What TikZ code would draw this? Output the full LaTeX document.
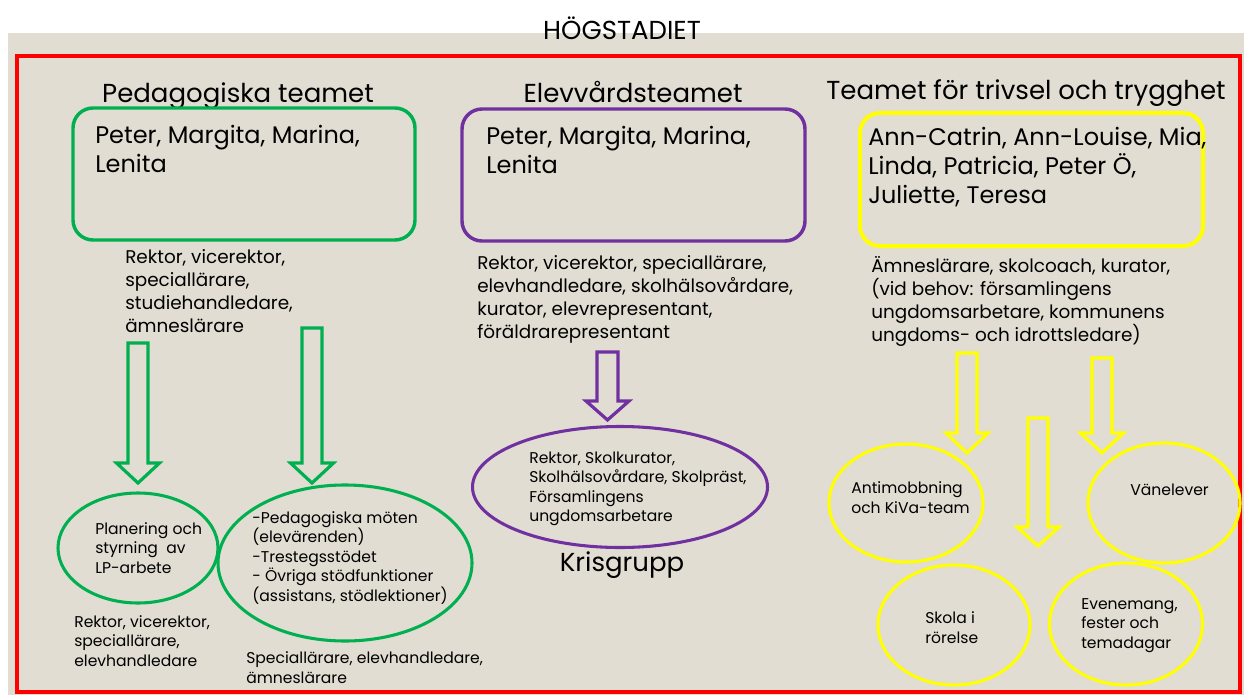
\documentclass[tikz,border=0pt]{standalone}
\usepackage{fontspec}
\setmainfont{Poppins}
\usetikzlibrary{shapes.geometric}
\definecolor{bg}{RGB}{226,221,210}
\definecolor{pgreen}{RGB}{0,176,80}
\definecolor{ppurple}{RGB}{112,48,160}
\definecolor{pyellow}{RGB}{255,255,0}
\definecolor{pred}{RGB}{255,0,0}
\newcommand\blockdown[7]{% color, x, top, headtop, tip, halfshaft, halfhead
  \draw[#1, line width=2.4pt, line join=miter, fill=bg]
    (#2-#6,#3) -- (#2+#6,#3) -- (#2+#6,#4) -- (#2+#7,#4) -- (#2,#5)
    -- (#2-#7,#4) -- (#2-#6,#4) -- cycle;}
\tikzset{
  teambox/.style={draw=#1, line width=2.6pt, rounded corners=15pt, inner sep=0pt},
  oval/.style={ellipse, draw=#1, line width=2.3pt, inner sep=0pt},
  heading/.style={anchor=base, inner sep=0pt, font=\fontsize{19.5}{22}\selectfont},
  names/.style={anchor=base west, inner sep=0pt, align=left, font=\fontsize{18}{21.75}\selectfont},
  desc/.style={anchor=base west, inner sep=0pt, align=left, font=\fontsize{13.8}{17.25}\selectfont},
  small/.style={anchor=base west, inner sep=0pt, align=left, font=\fontsize{11.7}{14.6}\selectfont},
}
\begin{document}
\begin{tikzpicture}[x=0.75pt,y=-0.75pt]
\useasboundingbox (0,0) rectangle (1244,695);
\fill[bg] (8,33) rectangle (1244,695);
\draw[pred, line width=2.4pt] (17,56) rectangle (1240,692);
\node[heading] (title) at (622,40) {HÖGSTADIET};

% headings
\node[heading] (hped) at (238,103) {Pedagogiska teamet};
\node[heading] (helev) at (633,103) {Elevvårdsteamet};
\node[heading] (htriv) at (1026,100) {Teamet för trivsel och trygghet};

% team boxes
\node[teambox=pgreen, minimum width=256.5pt, minimum height=99pt] (bped) at (244,174) {};
\node[teambox=ppurple, minimum width=257.25pt, minimum height=99pt] (belev) at (633.5,175) {};
\node[teambox=pyellow, line width=3pt, minimum width=257.25pt, minimum height=99.75pt] (btriv) at (1031.5,179.5) {};

% (anchor base = baseline of the last line)
\node[names] (nped) at (95,173) {Peter, Margita, Marina,\\Lenita};
\node[names] (nelev) at (486,174) {Peter, Margita, Marina,\\Lenita};
\node[names] (ntriv) at (868,204) {Ann-Catrin, Ann-Louise, Mia,\\Linda, Patricia, Peter Ö,\\Juliette, Teresa};

% descriptions
\node[desc] (dped) at (125,332) {Rektor, vicerektor,\\speciallärare,\\studiehandledare,\\ämneslärare};
\node[desc] (delev) at (477,338) {Rektor, vicerektor, speciallärare,\\elevhandledare, skolhälsovårdare,\\kurator, elevrepresentant,\\föräldrarepresentant};
\node[desc] (dtriv) at (871,341) {Ämneslärare, skolcoach, kurator,\\(vid behov: församlingens\\ungdomsarbetare, kommunens\\ungdoms- och idrottsledare)};

% arrows
\blockdown{pgreen}{138}{343}{463}{483}{10}{21.5}
\blockdown{pgreen}{312}{328}{463}{483}{10}{21.5}
\blockdown{ppurple}{607.5}{352}{401}{420}{10.5}{21.5}
\blockdown{pyellow}{967}{353}{433}{453}{10}{21}
\blockdown{pyellow}{1038}{418}{527}{546}{10}{21}
\blockdown{pyellow}{1102}{358}{433}{453}{10}{21.5}

% ovals
\node[oval=pgreen, minimum width=120pt, minimum height=82.5pt] (eplan) at (138,548) {};
\node[oval=pgreen, minimum width=190.5pt, minimum height=117pt] (emot) at (345,563) {};
\node[oval=ppurple, minimum width=221.25pt, minimum height=90.75pt] (ekris) at (620,487) {};
\node[oval=pyellow, minimum width=115.5pt, minimum height=88.5pt] (eanti) at (906,503) {};
\node[oval=pyellow, minimum width=114pt, minimum height=90pt] (evan) at (1164,503) {};
\node[oval=pyellow, minimum width=114pt, minimum height=90pt] (eskola) at (954,625) {};
\node[oval=pyellow, minimum width=114.75pt, minimum height=91.5pt] (eeven) at (1126,624) {};

\node[small] (tplan) at (95,573) {Planering och\\styrning\ \ av\\LP-arbete};
\node[small] (tmot) at (252,601) {-Pedagogiska möten\\(elevärenden)\\-Trestegsstödet\\- Övriga stödfunktioner\\(assistans, stödlektioner)};
\node[small] (tplanw) at (74,666) {Rektor, vicerektor,\\speciallärare,\\elevhandledare};
\node[small] (tmotw) at (246,683) {Speciallärare, elevhandledare,\\ämneslärare};
\node[small] (tkris) at (529,521.5) {Rektor, Skolkurator,\\Skolhälsovårdare, Skolpräst,\\Församlingens\\ungdomsarbetare};
\node[heading] (hkris) at (622,571) {Krisgrupp};
\node[small] (tanti) at (851,513) {Antimobbning\\och KiVa-team};
\node[small] (tvan) at (1130,495) {Vänelever};
\node[small] (tskola) at (925,643) {Skola i\\rörelse};
\node[small] (teven) at (1081,648) {Evenemang,\\fester och\\temadagar};
\end{tikzpicture}
\end{document}
